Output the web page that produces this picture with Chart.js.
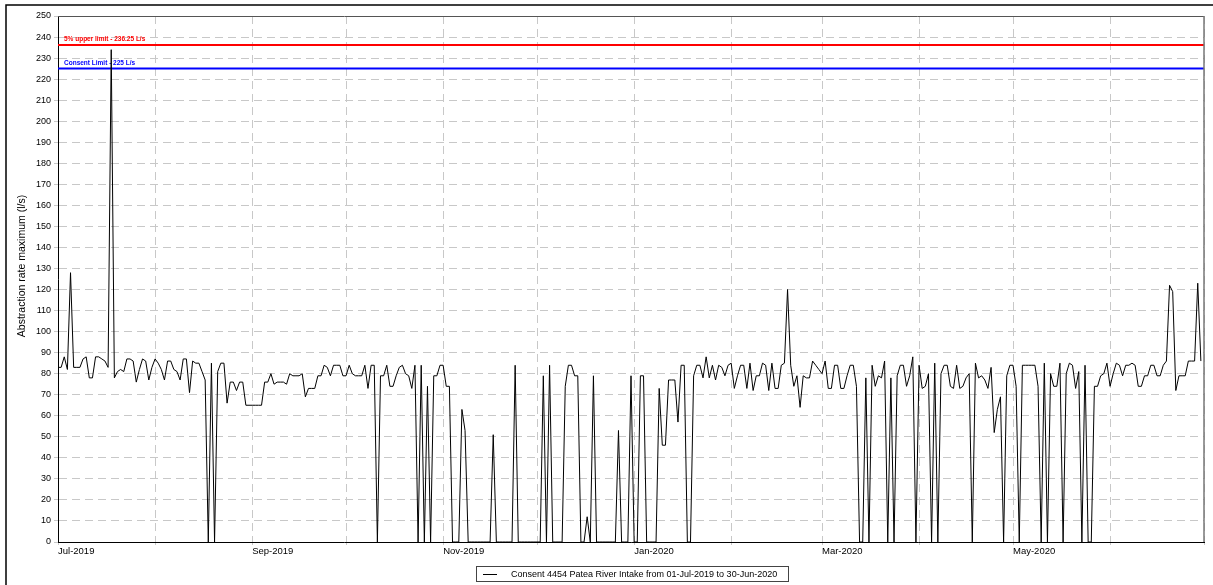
<!DOCTYPE html>
<html><head><meta charset="utf-8">
<script src="https://cdn.jsdelivr.net/npm/chart.js@4.4.0/dist/chart.umd.min.js"></script>
<style>html,body{margin:0;padding:0;background:#fff;}</style>
</head><body>
<canvas id="c" width="1213" height="585"></canvas>
<script>
// Daily maximum abstraction rate (l/s), 01-Jul-2019 .. 30-Jun-2020
const jul2019 = [83,83,88,82,128,83,83,83,87,88, 78,78,88,88,87,86,83,234,78,81, 82,81,87,87,86,76,82,87,86,77, 83];
const aug2019 = [87,85,82,77,86,86,82,81,77,87, 87,71,86,85,85,81,77,0,85,0, 81,85,85,66,76,76,72,76,76,65, 65];
const sep2019 = [65,65,65,65,76,76,80,75,76,76, 76,75,80,79,79,79,80,69,73,73, 73,79,79,84,83,79,84,84,84,79];
const oct2019 = [79,84,80,79,79,79,84,73,84,84, 0,79,79,84,74,74,79,83,84,80, 79,73,84,0,84,0,74,0,79,79, 84];
const nov2019 = [84,74,74,0,0,0,63,53,0,0, 0,0,0,0,0,0,51,0,0,0, 0,0,0,84,0,0,0,0,0,0];
const dec2019 = [0,0,79,0,84,0,0,0,0,74, 84,84,79,79,0,0,12,0,79,0, 0,0,0,0,0,0,53,0,0,0, 79];
const jan2020 = [0,0,79,79,0,0,0,0,73,46, 46,77,77,77,57,84,84,0,0,79, 84,84,78,88,78,84,77,84,83,79, 84];
const feb2020 = [85,73,79,84,84,73,85,72,79,79, 85,84,72,85,73,73,84,85,120,84, 74,79,64,79,78,78,86,84,82];
const mar2020 = [80,86,73,73,84,84,73,73,79,84, 84,74,0,0,78,0,84,74,79,78, 86,0,78,0,79,84,84,74,79,88, 0];
const apr2020 = [84,73,74,80,0,85,0,80,84,84, 74,73,84,73,74,78,80,0,85,78, 79,77,73,83,52,63,69,0,79,84];
const may2020 = [84,74,0,84,84,84,84,84,74,0, 85,0,80,74,74,85,0,80,85,84, 73,81,0,84,0,0,74,74,79,80, 85];
const jun2020 = [74,80,85,84,79,84,84,85,84,74, 74,79,79,84,84,79,79,84,86,122, 119,72,79,79,79,86,86,86,123,86];

const monthStartDays = [0,31,62,92,123,153,184,215,244,275,305,336,366];
const monthLabels = ['Jul-2019','Aug-2019','Sep-2019','Oct-2019','Nov-2019','Dec-2019','Jan-2020','Feb-2020','Mar-2020','Apr-2020','May-2020','Jun-2020','Jul-2020'];
const yMin = 0, yMax = 250, yStep = 10;
const upperLimit = 236.25;
const consentLimit = 225;
const upperLimitLabel = '5% upper limit - 236.25 L/s';
const consentLimitLabel = 'Consent Limit - 225 L/s';
const seriesLabel = 'Consent 4454 Patea River Intake from 01-Jul-2019 to 30-Jun-2020';
const yTitle = 'Abstraction rate maximum (l/s)';

const values = [].concat(jul2019, aug2019, sep2019, oct2019, nov2019, dec2019, jan2020, feb2020, mar2020, apr2020, may2020, jun2020);
const points = values.map((v, i) => ({x: i, y: v}));

const FONT = 'Liberation Sans, Arial, Helvetica, sans-serif';

const decor = {
  id: 'decor',
  beforeDatasetsDraw(chart) {
    const {ctx, chartArea: a, scales: {y}} = chart;
    ctx.save();
    const lines = [[upperLimit, '#ff0000', upperLimitLabel], [consentLimit, '#0000ff', consentLimitLabel]];
    for (const [v, col, txt] of lines) {
      const py = y.getPixelForValue(v);
      ctx.strokeStyle = col; ctx.lineWidth = 2;
      ctx.beginPath(); ctx.moveTo(a.left, py); ctx.lineTo(a.right, py); ctx.stroke();
      ctx.fillStyle = col;
      ctx.font = 'bold 6.5px ' + FONT;
      ctx.textBaseline = 'alphabetic'; ctx.textAlign = 'left';
      ctx.fillText(txt, a.left + 6, py - 3.5);
    }
    ctx.restore();
  },
  afterDraw(chart) {
    const {ctx, chartArea: a} = chart;
    ctx.save();
    // plot top & right border
    ctx.strokeStyle = '#555'; ctx.lineWidth = 1;
    ctx.beginPath(); ctx.moveTo(a.left, a.top + 0.5); ctx.lineTo(a.right, a.top + 0.5); ctx.stroke();
    ctx.strokeStyle = '#777'; ctx.lineWidth = 1.5;
    ctx.beginPath(); ctx.moveTo(a.right, a.top); ctx.lineTo(a.right, a.bottom); ctx.stroke();
    // outer frame
    ctx.strokeStyle = '#000'; ctx.lineWidth = 1.5;
    ctx.beginPath(); ctx.moveTo(6, 585); ctx.lineTo(6, 5); ctx.lineTo(1213, 5); ctx.stroke();
    // y title
    ctx.fillStyle = '#000';
    ctx.font = '10.5px ' + FONT;
    ctx.textAlign = 'center'; ctx.textBaseline = 'middle';
    ctx.translate(22, 266); ctx.rotate(-Math.PI / 2);
    ctx.fillText(yTitle, 0, 0);
    ctx.setTransform(1, 0, 0, 1, 0, 0);
    // legend
    ctx.strokeStyle = '#444'; ctx.lineWidth = 1;
    ctx.strokeRect(476.5, 566.5, 312, 15);
    ctx.strokeStyle = '#000'; ctx.lineWidth = 1;
    ctx.beginPath(); ctx.moveTo(483, 574.5); ctx.lineTo(497, 574.5); ctx.stroke();
    ctx.font = '9px ' + FONT;
    ctx.textAlign = 'left'; ctx.textBaseline = 'middle';
    ctx.fillText(seriesLabel, 511, 574.5);
    ctx.restore();
  }
};

new Chart(document.getElementById('c'), {
  type: 'line',
  data: {
    datasets: [{
      label: seriesLabel,
      data: points,
      borderColor: '#000',
      borderWidth: 1,
      pointRadius: 0,
      tension: 0,
      fill: false
    }]
  },
  options: {
    responsive: false,
    animation: false,
    devicePixelRatio: 1,
    layout: {padding: {left: 0, right: 9, top: 16, bottom: 23}},
    plugins: {legend: {display: false}, tooltip: {enabled: false}},
    scales: {
      x: {
        type: 'linear', min: 0, max: 366,
        afterBuildTicks: s => { s.ticks = monthStartDays.map(v => ({value: v})); },
        afterFit: s => { s.height = 20; },
        ticks: {
          autoSkip: false, maxRotation: 0, minRotation: 0, align: 'start',
          color: '#000', padding: 1,
          font: {size: 9.5, family: FONT},
          callback: (v, i) => (i % 2 === 0 && i < 12) ? monthLabels[i] : ''
        },
        grid: {color: '#c8c8c8', lineWidth: 1, tickLength: 3},
        border: {color: '#000', width: 1, dash: [8, 5]}
      },
      y: {
        min: yMin, max: yMax,
        afterFit: s => { s.width = 58; },
        ticks: {stepSize: yStep, color: '#000', padding: 3, font: {size: 9, family: FONT}},
        grid: {color: '#c8c8c8', lineWidth: 1, tickLength: 4},
        border: {color: '#000', width: 1, dash: [8, 5]}
      }
    }
  },
  plugins: [decor]
});
</script>
</body></html>
